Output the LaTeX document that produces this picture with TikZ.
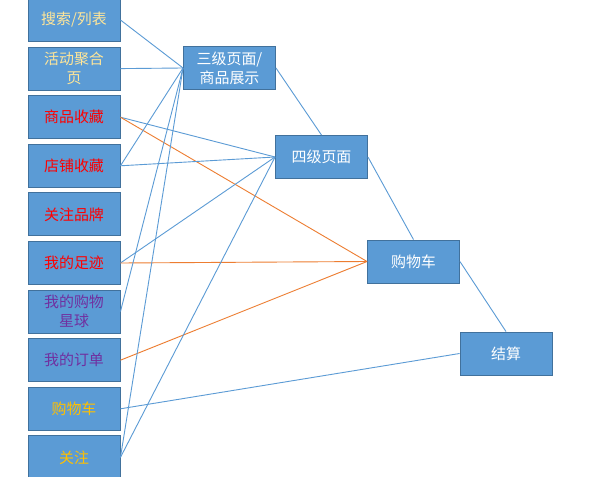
\documentclass[tikz,border=0pt]{standalone}
\usepackage{fontspec}
\setmainfont{Noto Sans CJK SC}
\definecolor{boxfill}{HTML}{5B9BD5}
\definecolor{boxline}{HTML}{41719C}
\definecolor{lblue}{HTML}{5B9BD5}
\definecolor{lorange}{HTML}{ED7D31}
\definecolor{tpale}{HTML}{FFE699}
\definecolor{tgold}{HTML}{FFC000}
\definecolor{tred}{HTML}{FF0000}
\definecolor{tpurple}{HTML}{7030A0}
\begin{document}
\begin{tikzpicture}[x=1bp,y=-1bp,
  box/.style={draw=boxline,line width=0.9bp,fill=boxfill,minimum width=92bp,minimum height=43bp,
    inner sep=1bp,align=center,font=\fontsize{15}{19}\selectfont,text=white},
  bl/.style={draw=lblue,line width=0.9bp},
  ol/.style={draw=lorange,line width=0.9bp}]
\useasboundingbox (0,0) rectangle (590,477);
\fill[white] (0,0) rectangle (590,477);
% left column
\node[box,text=tpale] (a1) at (74,20) {搜索/列表};
\node[box,text=tpale] (a2) at (74,68.6) {活动聚合\\页};
\node[box,text=tred] (a3) at (74,117.2) {商品收藏};
\node[box,text=tred] (a4) at (74,165.8) {店铺收藏};
\node[box,text=tred] (a5) at (74,214.4) {关注品牌};
\node[box,text=tred] (a6) at (74,263) {我的足迹};
\node[box,text=tpurple] (a7) at (74,311.6) {我的购物\\星球};
\node[box,text=tpurple] (a8) at (74,360.2) {我的订单};
\node[box,text=tgold] (a9) at (74,408.8) {购物车};
\node[box,text=tgold] (a10) at (74,457.4) {关注};
% right boxes
\node[box] (b3) at (229.5,68) {三级页面/\\商品展示};
\node[box] (b4) at (321.5,157) {四级页面};
\node[box] (b5) at (413.5,261.5) {购物车};
\node[box] (b6) at (506,353.5) {结算};
% connectors
\draw[bl] (a1.east) -- (b3.west);
\draw[bl] (a2.east) -- (b3.west);
\draw[bl] (a3.east) -- (b4.west);
\draw[ol] (a3.east) -- (b5.west);
\draw[bl] (a4.east) -- (b3.west);
\draw[bl] (a4.east) -- (b4.west);
\draw[bl] (a6.east) -- (b4.west);
\draw[ol] (a6.east) -- (b5.west);
\draw[bl] (a7.east) -- (b3.west);
\draw[ol] (a8.east) -- (b5.west);
\draw[bl] (a9.east) -- (b6.west);
\draw[bl] (a10.east) -- (b3.west);
\draw[bl] (a10.east) -- (b4.west);
\draw[bl] (b3.east) -- (b4.north);
\draw[bl] (b4.east) -- (b5.north);
\draw[bl] (b5.east) -- (b6.north);
\end{tikzpicture}
\end{document}
